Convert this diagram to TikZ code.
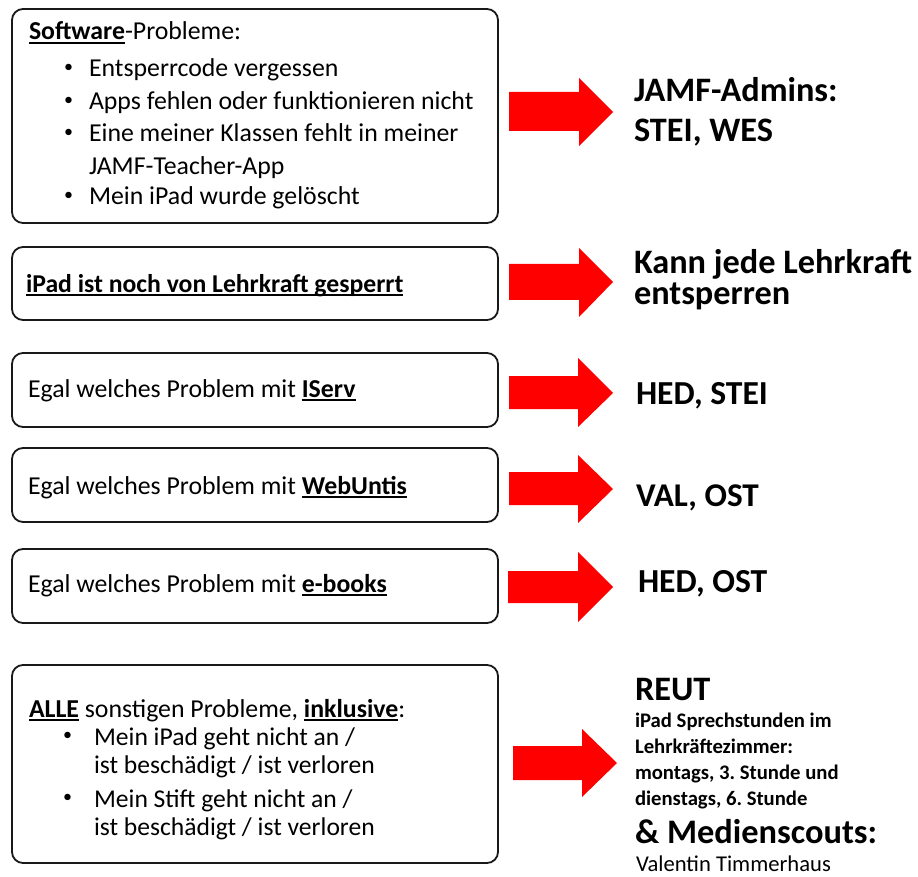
\documentclass[tikz,border=0pt]{standalone}
\usepackage{fontspec}
\setmainfont{Carlito}
\frenchspacing
\newcommand\ulx[1]{\setbox0\hbox{#1}\rlap{\rule[-0.15em]{\wd0}{0.08em}}\box0\relax}
\newcommand\fs[1]{\fontsize{#1}{#1}\selectfont}
\tikzset{
  probbox/.style={draw=black!90, line width=1.8pt, rounded corners=11pt},
  txt/.style={anchor=base west, inner sep=0pt, outer sep=0pt},
  bul/.style={anchor=base west, inner sep=0pt, outer sep=0pt, font=\fs{18}},
  redarrow/.style={fill=red},
}
\begin{document}
\begin{tikzpicture}[x=1pt,y=-1pt]
\useasboundingbox[fill=white] (0,0) rectangle (918,877);

% ---------- boxes ----------
\draw[probbox] (12,9) rectangle (498,223);
\draw[probbox] (12,247) rectangle (498,320);
\draw[probbox] (12,353) rectangle (498,427);
\draw[probbox] (12,448) rectangle (498,522);
\draw[probbox] (12,549) rectangle (498,623);
\draw[probbox] (12,665) rectangle (498,863);

% ---------- box 1 ----------
\node[txt] (h1) at (29,40) {\fs{25.8}\ulx{\bfseries Software}-Probleme:};
\node[bul] (b11) at (64,73) {•};
\node[txt] (t11) at (89,77) {\fs{25.8}Entsperrcode vergessen};
\node[bul] (b12) at (64,106) {•};
\node[txt] (t12) at (89,110) {\fs{25.8}Apps fehlen oder funktionieren nicht};
\node[bul] (b13) at (64,138) {•};
\node[txt] (t13) at (89,142) {\fs{25.8}Eine meiner Klassen fehlt in meiner};
\node[txt] (t14) at (89,175) {\fs{25.8}JAMF-Teacher-App};
\node[bul] (b15) at (64,201) {•};
\node[txt] (t15) at (89,205) {\fs{25.8}Mein iPad wurde gelöscht};

% ---------- box 2..5 ----------
\node[txt] (t2) at (26,292) {\fs{25.7}\ulx{\bfseries iPad ist noch von Lehrkraft gesperrt}};
\node[txt] (t3) at (28,397) {\fs{25.8}Egal welches Problem mit \ulx{\bfseries IServ}};
\node[txt] (t4) at (28,494) {\fs{25.8}Egal welches Problem mit \ulx{\bfseries WebUntis}};
\node[txt] (t5) at (28,592) {\fs{25.8}Egal welches Problem mit \ulx{\bfseries e-books}};

% ---------- box 6 ----------
\node[txt] (h6) at (29,717) {\fs{25.8}\ulx{\bfseries ALLE} sonstigen Probleme, \ulx{\bfseries inklusive}:};
\node[bul] (b61) at (63,740) {•};
\node[txt] (t61) at (94,745) {\fs{25.6}Mein iPad geht nicht an /};
\node[txt] (t62) at (94,773) {\fs{25.6}ist beschädigt / ist verloren};
\node[bul] (b63) at (63,802) {•};
\node[txt] (t63) at (94,807) {\fs{25.6}Mein Stift geht nicht an /};
\node[txt] (t64) at (94,835) {\fs{25.6}ist beschädigt / ist verloren};

% ---------- arrows ----------
\fill[redarrow] (509,92) -- (579,92) -- (579,78) -- (613,112) -- (579,146) -- (579,131) -- (509,131) -- cycle;
\fill[redarrow] (509,264) -- (579,264) -- (579,248) -- (613,282) -- (579,317) -- (579,300) -- (509,300) -- cycle;
\fill[redarrow] (509,376) -- (578,376) -- (578,358) -- (613,393) -- (578,427) -- (578,409) -- (509,409) -- cycle;
\fill[redarrow] (509,472) -- (578,472) -- (578,455) -- (613,489) -- (578,523) -- (578,505) -- (509,505) -- cycle;
\fill[redarrow] (508,571) -- (578,571) -- (578,552) -- (613,587) -- (578,622) -- (578,603) -- (508,603) -- cycle;
\fill[redarrow] (513,746) -- (582,746) -- (582,729) -- (617,763) -- (582,797) -- (582,780) -- (513,780) -- cycle;

% ---------- right column ----------
\node[txt] (r1a) at (634,102) {\fs{34.3}\bfseries JAMF-Admins:};
\node[txt] (r1b) at (634,142) {\fs{34.3}\bfseries STEI, WES};
\node[txt] (r2a) at (634,273) {\fs{34.3}\bfseries Kann jede Lehrkraft};
\node[txt] (r2b) at (634,305) {\fs{34.3}\bfseries entsperren};
\node[txt] (r3) at (636,404) {\fs{33.6}\bfseries HED, STEI};
\node[txt] (r4) at (636,506) {\fs{33.2}\bfseries VAL, OST};
\node[txt] (r5) at (638,592) {\fs{33.6}\bfseries HED, OST};
\node[txt] (r6a) at (635,700) {\fs{34.3}\bfseries REUT};
\node[txt] (r6b) at (635,727) {\fs{20.7}\bfseries iPad Sprechstunden im};
\node[txt] (r6c) at (635,753) {\fs{20.7}\bfseries Lehrkräftezimmer:};
\node[txt] (r6d) at (635,779) {\fs{20.7}\bfseries montags, 3. Stunde und};
\node[txt] (r6e) at (635,805) {\fs{20.7}\bfseries dienstags, 6. Stunde};
\node[txt] (r6f) at (635,843) {\fs{34.4}\bfseries \& Medienscouts:};
\node[txt] (r6g) at (636,871) {\fs{22.6}Valentin Timmerhaus};
\end{tikzpicture}
\end{document}
